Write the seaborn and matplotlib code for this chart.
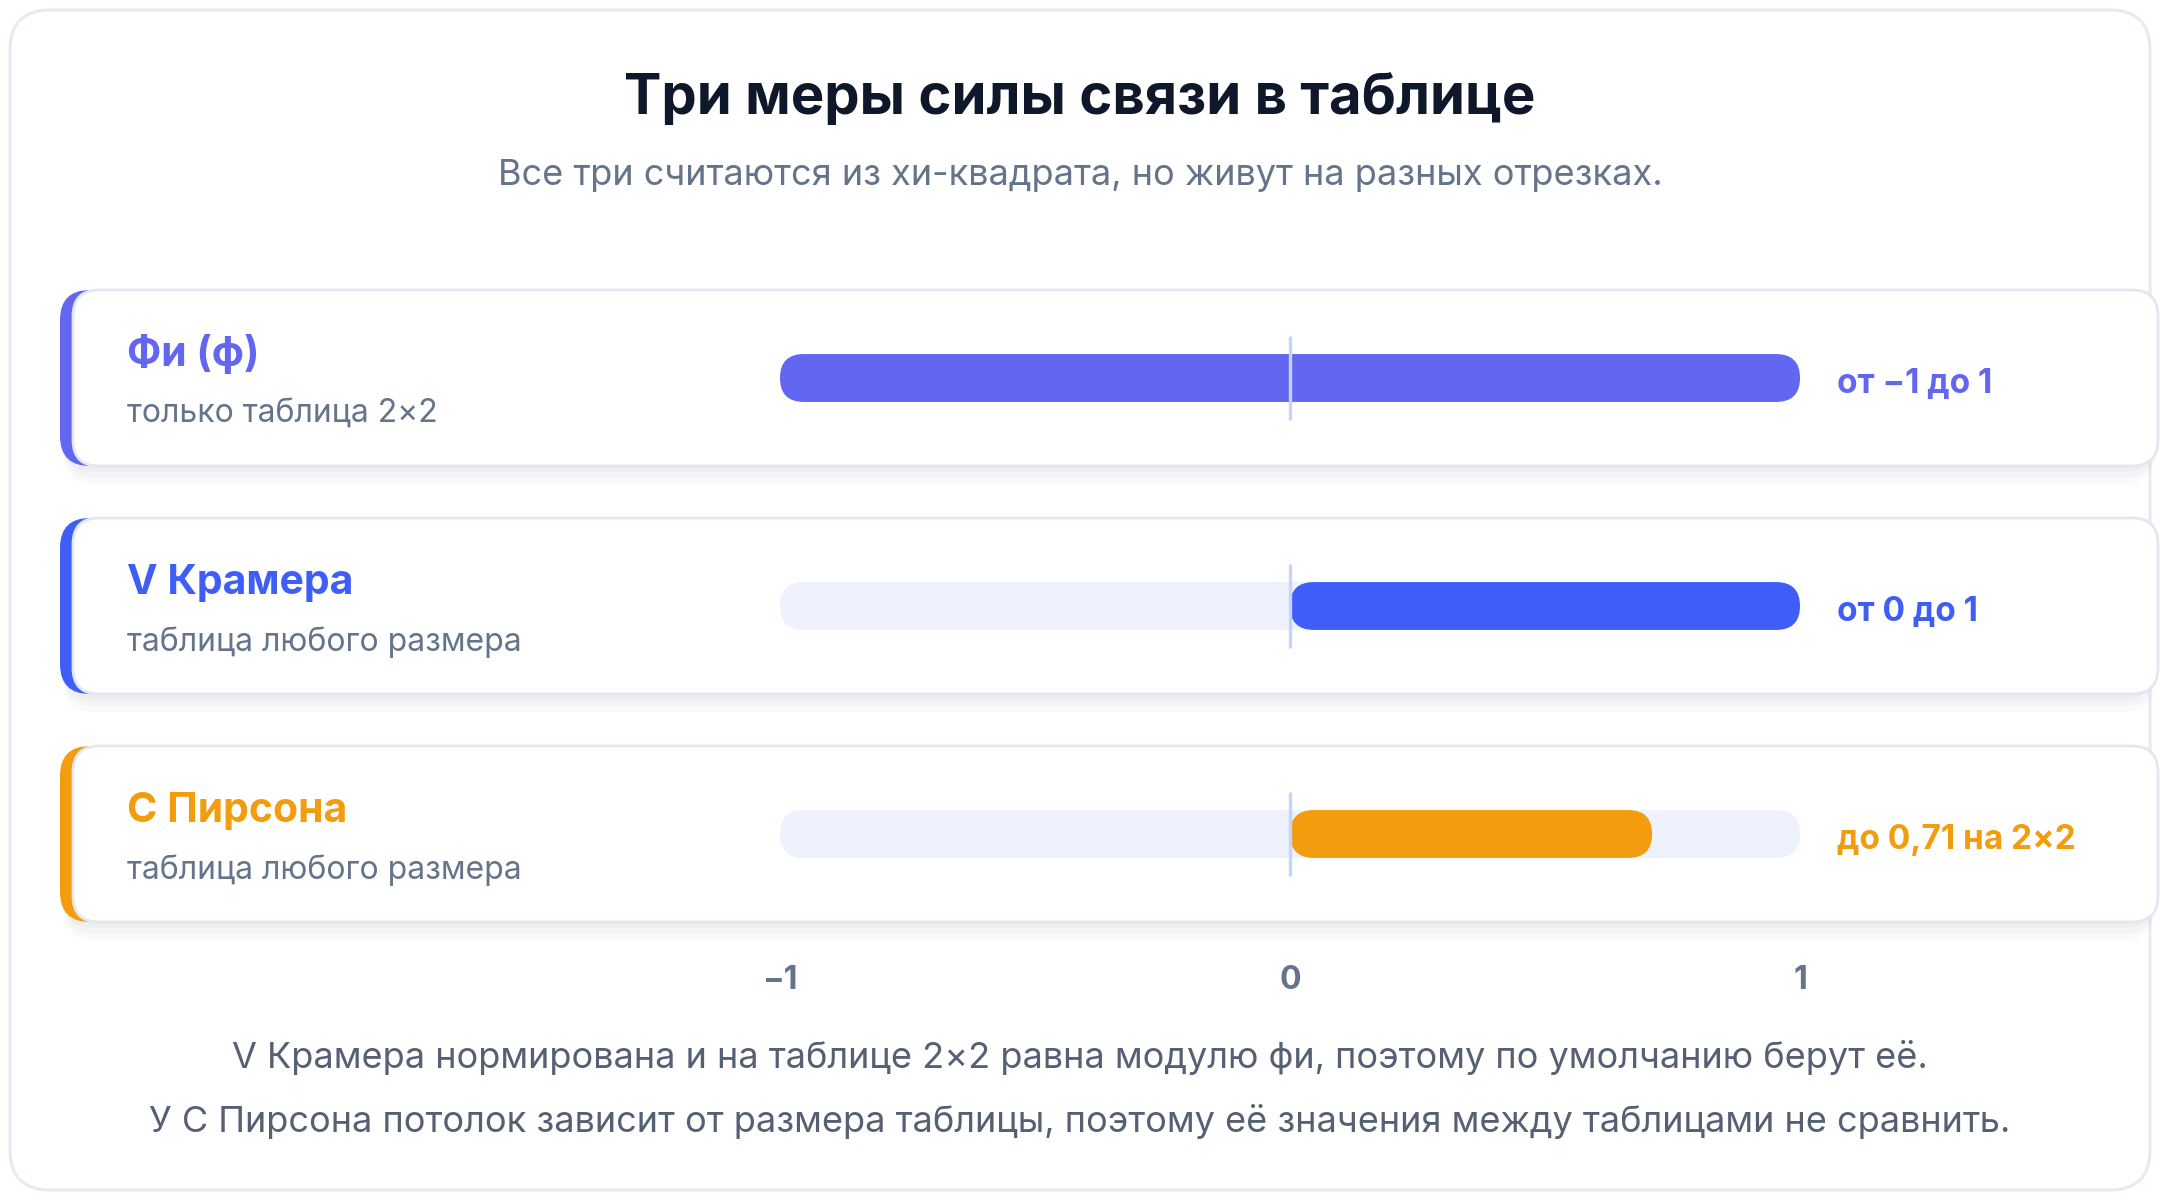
import numpy as np
import seaborn as sns
import matplotlib.pyplot as plt
from matplotlib.patches import FancyBboxPatch

# data
measures = ['Фи (ф)', 'V Крамера', 'С Пирсона']
notes = ['только таблица 2×2', 'таблица любого размера', 'таблица любого размера']
range_lo = [-1, 0, 0]
range_hi = [1, 1, 0.71]
range_labels = ['от −1 до 1', 'от 0 до 1', 'до 0,71 на 2×2']
colors = ['#6366f1', '#3f5ef7', '#f39c0d']
tick_values = [-1, 0, 1]
tick_labels = ['−1', '0', '1']

title = 'Три меры силы связи в таблице'
subtitle = 'Все три считаются из хи-квадрата, но живут на разных отрезках.'
footer = ['V Крамера нормирована и на таблице 2×2 равна модулю фи, поэтому по умолчанию берут её.',
          'У С Пирсона потолок зависит от размера таблицы, поэтому её значения между таблицами не сравнить.']

sns.set_theme(style='white')
plt.rcParams['font.family'] = ['Inter', 'DejaVu Sans']

W, H = 2160, 1200
fig = plt.figure(figsize=(21.6, 12), dpi=100)
fig.patch.set_facecolor('white')

# background canvas in pixel units
bg = fig.add_axes([0, 0, 1, 1], zorder=0)
bg.set_xlim(0, W)
bg.set_ylim(H, 0)
bg.axis('off')

# outer frame
bg.add_patch(FancyBboxPatch((10, 10), W - 20, H - 20, boxstyle='round,pad=0,rounding_size=40',
                            fc='white', ec='#e6eaf2', lw=2.2))

bg.text(W / 2, 114, title, ha='center', va='baseline', fontsize=40.5, fontweight='bold', color='#0f172a')
bg.text(W / 2, 185, subtitle, ha='center', va='baseline', fontsize=26, color='#64748b')

# cards
card_top, card_h, card_step = 290, 176, 228
card_x0, card_x1 = 60, 2158
for i, (name, note, col, lab) in enumerate(zip(measures, notes, colors, range_labels)):
    y0 = card_top + i * card_step
    for k, a in enumerate([0.035, 0.025, 0.018]):
        off = 6 + k * 6
        bg.add_patch(FancyBboxPatch((card_x0 + 4, y0 + off), card_x1 - card_x0 - 8, card_h,
                                    boxstyle='round,pad=0,rounding_size=30', fc='#1e293b', ec='none',
                                    alpha=a))
    bg.add_patch(FancyBboxPatch((card_x0, y0), card_x1 - card_x0, card_h,
                                boxstyle='round,pad=0,rounding_size=30', fc=col, ec='none'))
    bg.add_patch(FancyBboxPatch((card_x0 + 13, y0), card_x1 - card_x0 - 13, card_h,
                                boxstyle='round,pad=0,rounding_size=26', fc='white', ec='#e2e8f0', lw=2))
    bg.text(127, y0 + 76, name, ha='left', va='baseline', fontsize=29.5, fontweight='bold', color=col)
    bg.text(127, y0 + 133, note, ha='left', va='baseline', fontsize=23, color='#64748b')
    bg.text(1837, y0 + 103, lab, ha='left', va='baseline', fontsize=24, fontweight='bold', color=col)

for j, line in enumerate(footer):
    bg.text(W / 2, 1068 + j * 64, line, ha='center', va='baseline', fontsize=26, color='#556074')

# data axes: -1..1 across the bar region, one row per measure
ax_left, ax_right = 780, 1800
ax_top, ax_bot = 264, 948
ax = fig.add_axes([ax_left / W, 1 - ax_bot / H, (ax_right - ax_left) / W, (ax_bot - ax_top) / H], zorder=1)
ax.patch.set_alpha(0)

bar_h = 0.21
track_hi = [tick_values[-1]] * len(measures)
sns.barplot(x=track_hi, y=measures, orient='h', color='#eef2fd', saturation=1, width=bar_h, ax=ax)
n_track = len(ax.patches)
sns.barplot(x=range_hi, y=measures, hue=measures, palette=colors, saturation=1, orient='h', width=bar_h,
            legend=False, ax=ax)

ax.set_xlim(tick_values[0], tick_values[-1])
ax.set_ylim(len(measures) - 0.5, -0.5)

# turn the rectangles into pills
x_per_px = (tick_values[-1] - tick_values[0]) / (ax_right - ax_left)
y_per_px = len(measures) / (ax_bot - ax_top)
aspect = y_per_px / x_per_px
for idx, p in enumerate(list(ax.patches)):
    x, y, w, h = p.get_x(), p.get_y(), p.get_width(), p.get_height()
    row = int(round(y + h / 2))
    fc = p.get_facecolor()
    if idx < n_track:
        lo, hi = tick_values[0], x + w
        z = 1
    else:
        lo, hi = range_lo[row], x + w
        z = 2
    p.remove()
    r = h / aspect / 2
    ax.add_patch(FancyBboxPatch((lo, y), hi - lo, h, boxstyle=f'round,pad=0,rounding_size={r}',
                                mutation_aspect=aspect, fc=fc, ec='none', zorder=z))

# zero marker in each row
for i in range(len(measures)):
    ax.vlines(0, i - 0.183, i + 0.183, color='#c7d2fe', lw=2.4, zorder=3)

ax.set_xticks(tick_values)
ax.set_xticklabels(tick_labels, fontsize=23, fontweight='bold', color='#64748b')
ax.tick_params(axis='x', length=0, pad=12)
ax.set_yticks([])
ax.set_xlabel('')
ax.set_ylabel('')
sns.despine(ax=ax, left=True, bottom=True)

fig.savefig('out.png', dpi=100)
